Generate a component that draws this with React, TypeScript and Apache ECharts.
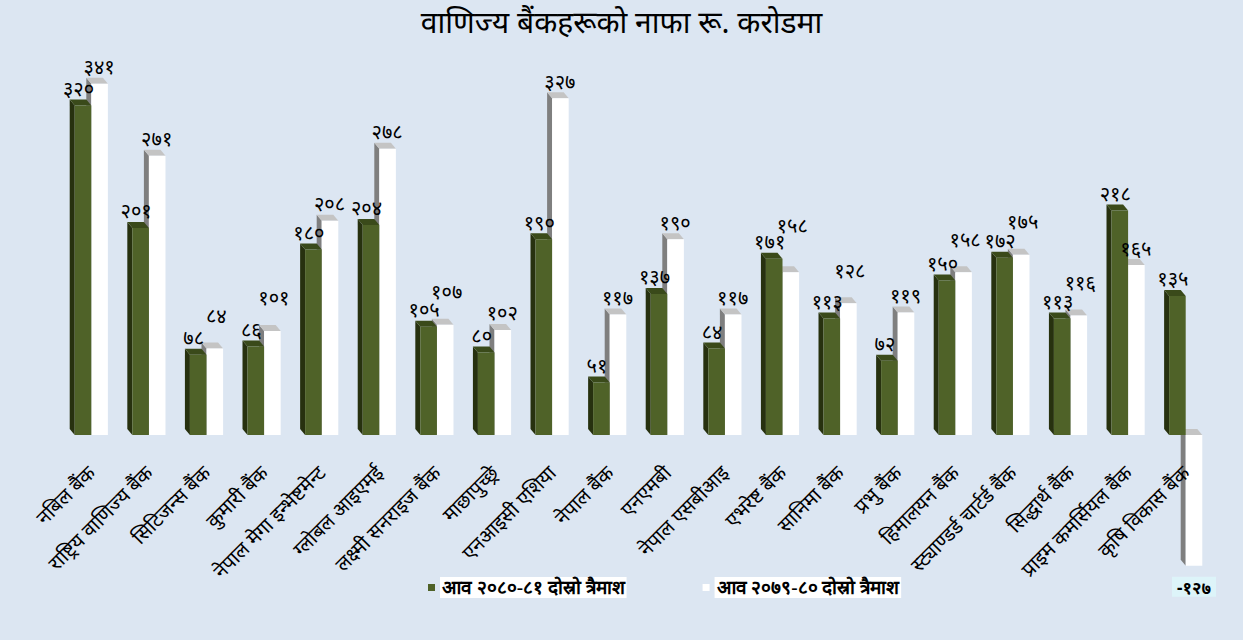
import React, { useEffect, useRef } from "react";
import * as echarts from "echarts";

const categories = [
  "नबिल बैंक",
  "राष्ट्रिय वाणिज्य बैंक",
  "सिटिजन्स बैंक",
  "कुमारी बैंक",
  "नेपाल मेगा इन्भेष्टमेन्ट",
  "ग्लोबल आइएमई",
  "लक्ष्मी सनराइज बैंक",
  "माछापुच्छ्रे",
  "एनआइसी एशिया",
  "नेपाल बैंक",
  "एनएमबी",
  "नेपाल एसबीआइ",
  "एभरेष्ट बैंक",
  "सानिमा बैंक",
  "प्रभु बैंक",
  "हिमालयन बैंक",
  "स्ट्याण्डर्ड चार्टर्ड बैंक",
  "सिद्धार्थ बैंक",
  "प्राइम कमर्सियल बैंक",
  "कृषि विकास बैंक",
];

const seriesNames = ["आव २०८०-८१ दोस्रो त्रैमाश", "आव २०७९-८० दोस्रो त्रैमाश"];

const values2080 = [320, 201, 78, 86, 180, 204, 105, 80, 190, 51, 137, 84, 171, 113, 72, 150, 172, 113, 218, 135];
const values2079 = [341, 271, 84, 101, 208, 278, 107, 102, 327, 117, 190, 117, 158, 128, 119, 158, 175, 116, 165, -127];

const titleText = "वाणिज्य बैंकहरूको नाफा रू. करोडमा";

const DEV_DIGITS = ["०", "१", "२", "३", "४", "५", "६", "७", "८", "९"];
const toDev = (n: number) =>
  String(n).replace(/[0-9]/g, (d) => DEV_DIGITS[Number(d)]);

const FONT = "'Noto Sans', 'Noto Sans Devanagari', sans-serif";

type Palette = { front: string; side: string; top: string };
const greenPal: Palette = { front: "#4F6228", side: "#27310F", top: "#3A4A1A" };
const whitePal: Palette = { front: "#FFFFFF", side: "#7F7F7F", top: "#C4C4C4" };

const DX = -5;
const DY = -6;
const BAR_FRAC = 0.288;

const Y_MIN = -150;
const Y_MAX = 400;
const GRID_TOP = 23;
const GRID_BOTTOM = 50.5;
const CHART_H = 640;
// distance (px) from the grid's bottom edge up to the zero line
const ZERO_OFFSET =
  ((0 - Y_MIN) / (Y_MAX - Y_MIN)) * (CHART_H - GRID_TOP - GRID_BOTTOM);

function barGeom(api: any, idx: number, v: number, sign: number) {
  const p = api.coord([idx, v]);
  const b = api.coord([idx, 0]);
  const band = api.size([1, 0])[0];
  const w = band * BAR_FRAC;
  const cx = p[0] + (sign * w) / 2;
  return {
    cx,
    x0: cx - w / 2,
    x1: cx + w / 2,
    w,
    yTop: Math.min(p[1], b[1]),
    yBot: Math.max(p[1], b[1]),
  };
}

function makeRender(pal: Palette, sign: number) {
  return (params: any, api: any) => {
    const idx = api.value(0);
    const v = api.value(1);
    const g = barGeom(api, idx, v, sign);
    const { x0, x1, yTop, yBot, w } = g;
    return {
      type: "group",
      children: [
        {
          type: "polygon",
          shape: {
            points: [
              [x0, yTop],
              [x0 + DX, yTop + DY],
              [x0 + DX, yBot + DY],
              [x0, yBot],
            ],
          },
          style: { fill: pal.side },
        },
        {
          type: "polygon",
          shape: {
            points: [
              [x0, yTop],
              [x1, yTop],
              [x1 + DX, yTop + DY],
              [x0 + DX, yTop + DY],
            ],
          },
          style: { fill: pal.top },
        },
        {
          type: "rect",
          shape: { x: x0, y: yTop, width: w, height: yBot - yTop },
          style: { fill: pal.front },
        },
      ],
    };
  };
}

const valueFont = `20px ${FONT}`;

function renderLabels(params: any, api: any) {
  const idx = api.value(0);
  const gv = api.value(1);
  const wv = api.value(2);
  const gg = barGeom(api, idx, gv, -1);
  const wg = barGeom(api, idx, wv, 1);
  const children: any[] = [];
  const gx = gg.cx + DX / 2 - 2;
  const gy = gg.yTop + DY - 1;
  children.push({
    type: "text",
    x: gx,
    y: gy,
    style: {
      text: toDev(gv),
      fill: "#000",
      font: valueFont,
      textAlign: "center",
      textVerticalAlign: "bottom",
    },
  });
  if (wv >= 0) {
    let wx = wg.cx + DX / 2 + 2;
    let wy = wg.yTop + DY - 1;
    if (Math.abs(wy - gy) < 18) {
      wx += 2;
      wy = Math.min(wy, gy) - 16;
    }
    children.push({
      type: "text",
      x: wx,
      y: wy,
      style: {
        text: toDev(wv),
        fill: "#000",
        font: valueFont,
        textAlign: "center",
        textVerticalAlign: "bottom",
      },
    });
  } else {
    children.push({
      type: "text",
      x: wg.cx,
      y: wg.yBot + 11,
      style: {
        text: "-" + toDev(-wv),
        fill: "#000",
        font: `bold 17px ${FONT}`,
        textAlign: "center",
        textVerticalAlign: "top",
        backgroundColor: "#DDF4F9",
        padding: [2, 5, 1, 5],
      },
    });
  }
  return { type: "group", children };
}

export default function App() {
  const ref = useRef<HTMLDivElement>(null);
  useEffect(() => {
    if (!ref.current) return;
    const chart = echarts.init(ref.current, undefined, { renderer: "svg" });
    const d2080 = values2080.map((v, i) => [i, v]);
    const d2079 = values2079.map((v, i) => [i, v]);
    const dLabels = values2080.map((v, i) => [i, v, values2079[i]]);
    chart.setOption({
      animation: false,
      backgroundColor: "#DCE6F2",
      title: {
        text: titleText,
        left: "center",
        top: 1,
        textStyle: { fontFamily: FONT, fontSize: 30, fontWeight: "normal", color: "#000" },
      },
      legend: {
        left: 423,
        top: 572,
        itemWidth: 7,
        itemHeight: 7,
        itemGap: 76,
        icon: "rect",
        data: [
          { name: seriesNames[0], itemStyle: { color: "#4F6228" } },
          { name: seriesNames[1], itemStyle: { color: "#FFFFFF" } },
        ],
        textStyle: {
          fontFamily: "serif",
          fontWeight: "bold",
          fontSize: 19,
          color: "#000",
          backgroundColor: "#FFFFFF",
          padding: [2, 2, 0, 2],
        },
      },
      grid: {
        left: 62.5,
        right: 28.5,
        top: GRID_TOP,
        bottom: GRID_BOTTOM,
        containLabel: false,
        outerBoundsMode: "none",
      },
      xAxis: {
        type: "category",
        data: categories,
        position: "bottom",
        offset: -ZERO_OFFSET,
        z: 20,
        axisLine: { show: false, onZero: false },
        axisTick: { show: false },
        axisLabel: {
          rotate: 45,
          interval: 0,
          margin: 34,
          fontFamily: FONT,
          fontSize: 20,
          color: "#000",
        },
      },
      yAxis: {
        type: "value",
        min: Y_MIN,
        max: Y_MAX,
        axisLine: { show: false },
        axisTick: { show: false },
        axisLabel: { show: false },
        splitLine: { show: false },
      },
      series: [
        {
          name: seriesNames[1],
          type: "custom",
          itemStyle: { color: "#FFFFFF" },
          renderItem: makeRender(whitePal, 1),
          data: d2079,
          z: 2,
        },
        {
          name: seriesNames[0],
          type: "custom",
          itemStyle: { color: "#4F6228" },
          renderItem: makeRender(greenPal, -1),
          data: d2080,
          z: 3,
        },
        {
          name: "labels",
          type: "custom",
          renderItem: renderLabels,
          data: dLabels,
          z: 10,
          silent: true,
        },
      ],
    });
    return () => chart.dispose();
  }, []);
  return (
    <div
      ref={ref}
      style={{ position: "absolute", left: 0, top: 0, width: 1243, height: CHART_H }}
    />
  );
}
